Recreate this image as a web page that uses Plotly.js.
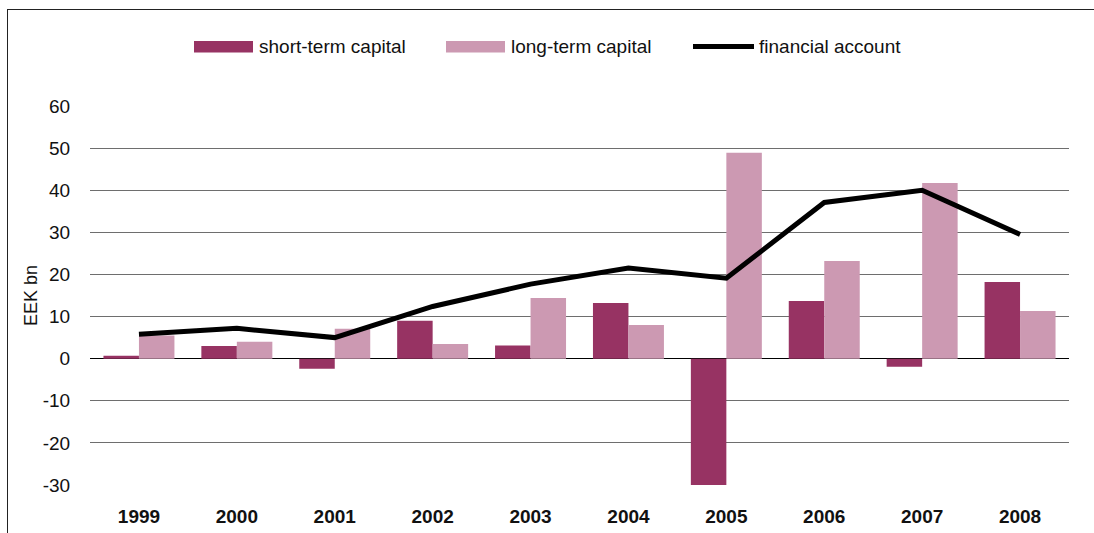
<!DOCTYPE html>
<html>
<head>
<meta charset="utf-8">
<script src="https://cdn.plot.ly/plotly-3.0.1.min.js"></script>
<style>
  html, body { margin: 0; padding: 0; background: #fff; }
  #wrap { position: relative; width: 1094px; height: 533px; }
  #chart { position: absolute; left: 0; top: 0; width: 1094px; height: 533px; }
  #frame { position: absolute; left: 7px; top: 9px; right: 0; bottom: 0;
           border-left: 1px solid #222; border-top: 1px solid #222; pointer-events: none; }
</style>
</head>
<body>
<div id="wrap">
  <div id="chart"></div>
  <div id="frame"></div>
</div>
<script>
const years = ['1999','2000','2001','2002','2003','2004','2005','2006','2007','2008'];
const shortTerm = [0.7, 3.0, -2.4, 9.0, 3.1, 13.2, -30, 13.7, -1.9, 18.2];
const longTerm = [5.5, 4.0, 7.1, 3.5, 14.4, 8.0, 48.9, 23.2, 41.7, 11.3];
const financialAccount = [5.8, 7.2, 5.0, 12.4, 17.7, 21.5, 19.1, 37.1, 40.0, 29.5];
const seriesNames = ['short-term capital', 'long-term capital', 'financial account'];
const yTicks = [-30, -20, -10, 0, 10, 20, 30, 40, 50, 60];

const cShort = '#973363';
const cLong = '#cc99b2';
const font = 'Liberation Sans, Arial, Helvetica, sans-serif';
const fs = 19;

const traces = [
  { type: 'bar', name: seriesNames[0], x: years, y: shortTerm, marker: { color: cShort }, showlegend: false },
  { type: 'bar', name: seriesNames[1], x: years, y: longTerm, marker: { color: cLong }, showlegend: false },
  { type: 'scatter', mode: 'lines', name: seriesNames[2], x: years, y: financialAccount,
    line: { color: '#000', width: 5 }, showlegend: false }
];

// plot area in pixels: x 90..1069, y 106..485
const L = 90, R = 1069, T = 106, B = 485;
const px = v => (v - L) / (R - L);
const py = v => (B - v) / (B - T);

const legendY = 46.5;
const shapes = [
  { type: 'rect', xref: 'paper', yref: 'paper', x0: px(194), x1: px(253), y0: py(52.5), y1: py(41),
    fillcolor: cShort, line: { width: 0 } },
  { type: 'rect', xref: 'paper', yref: 'paper', x0: px(446), x1: px(505), y0: py(52.5), y1: py(41),
    fillcolor: cLong, line: { width: 0 } },
  { type: 'line', xref: 'paper', yref: 'paper', x0: px(693), x1: px(754), y0: py(legendY), y1: py(legendY),
    line: { color: '#000', width: 5 } }
];
const annotations = [
  { xref: 'paper', yref: 'paper', x: px(257), y: py(legendY), xanchor: 'left', yanchor: 'middle',
    text: seriesNames[0], showarrow: false, font: { family: font, size: fs, color: '#111' } },
  { xref: 'paper', yref: 'paper', x: px(509), y: py(legendY), xanchor: 'left', yanchor: 'middle',
    text: seriesNames[1], showarrow: false, font: { family: font, size: fs, color: '#111' } },
  { xref: 'paper', yref: 'paper', x: px(757), y: py(legendY), xanchor: 'left', yanchor: 'middle',
    text: seriesNames[2], showarrow: false, font: { family: font, size: fs, color: '#111' } }
];

const layout = {
  width: 1094, height: 533,
  margin: { l: L, r: 1094 - R, t: T, b: 533 - B, pad: 0 },
  paper_bgcolor: '#fff', plot_bgcolor: '#fff',
  font: { family: font, size: fs, color: '#111' },
  barmode: 'group', bargap: 0.275, bargroupgap: 0,
  showlegend: false,
  xaxis: {
    type: 'category', categoryorder: 'array', categoryarray: years,
    showgrid: false, showline: false, zeroline: false,
    ticks: 'outside', ticklen: 14, tickcolor: 'rgba(0,0,0,0)',
    tickfont: { family: font, size: fs, weight: 'bold', color: '#111' },
    fixedrange: true
  },
  yaxis: {
    range: [-30, 60], tickvals: yTicks, ticktext: yTicks.map(String),
    showgrid: true, gridcolor: '#6e6e6e', gridwidth: 1,
    zeroline: true, zerolinecolor: '#000', zerolinewidth: 1.5,
    showline: false,
    ticks: 'outside', ticklen: 15, tickcolor: 'rgba(0,0,0,0)',
    tickfont: { family: font, size: fs, color: '#111' },
    title: { text: 'EEK bn', font: { family: font, size: 18, color: '#111' }, standoff: 0 },
    automargin: false, fixedrange: true
  },
  shapes: shapes,
  annotations: annotations
};

Plotly.newPlot('chart', traces, layout, { staticPlot: true, displayModeBar: false });
</script>
</body>
</html>
